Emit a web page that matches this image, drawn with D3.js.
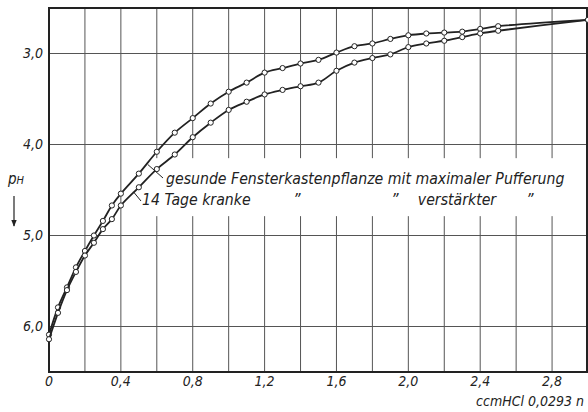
<!DOCTYPE html>
<html lang="de">
<head>
<meta charset="utf-8"/>
<title>pH Titration</title>
<script src="https://d3js.org/d3.v7.min.js"></script>
<style>
  body { margin: 0; background: #fff; }
  text { font-family: "Liberation Sans Narrow", "DejaVu Sans Condensed", sans-serif; font-style: italic; fill: #222; }
  .grid line { stroke: #555; stroke-width: 1; }
  .frame { fill: none; stroke: #222; stroke-width: 2; }
  .curve { fill: none; stroke: #222; stroke-width: 1.8; }
  .pt { fill: #fff; stroke: #222; stroke-width: 1; }
</style>
</head>
<body>
<div id="chart"></div>
<script>
  // ccm HCl 0,0293 n
  var ccm = [0, 0.05, 0.1, 0.15, 0.2, 0.25, 0.3, 0.35, 0.4, 0.5, 0.6, 0.7, 0.8, 0.9, 1.0,
             1.1, 1.2, 1.3, 1.4, 1.5, 1.6, 1.7, 1.8, 1.9, 2.0, 2.1, 2.2, 2.3, 2.4, 2.5, 3.0];
  // gesunde Fensterkastenpflanze mit maximaler Pufferung
  var phGesund = [6.09, 5.79, 5.57, 5.35, 5.17, 5.00, 4.84, 4.67, 4.54, 4.32, 4.08, 3.87, 3.71, 3.55, 3.42,
                  3.32, 3.21, 3.16, 3.11, 3.07, 2.99, 2.92, 2.89, 2.84, 2.80, 2.78, 2.77, 2.76, 2.73, 2.70, 2.63];
  // 14 Tage kranke ... verstaerkter Pufferung
  var phKrank = [6.14, 5.85, 5.60, 5.40, 5.22, 5.08, 4.93, 4.82, 4.67, 4.47, 4.27, 4.11, 3.92, 3.76, 3.62,
                 3.53, 3.45, 3.40, 3.36, 3.32, 3.19, 3.10, 3.05, 3.01, 2.93, 2.89, 2.86, 2.82, 2.78, 2.75, 2.63];
  var xGrid = [0.2, 0.4, 0.6, 0.8, 1.0, 1.2, 1.4, 1.6, 1.8, 2.0, 2.2, 2.4, 2.6, 2.8];
  var xLabels = [0, 0.4, 0.8, 1.2, 1.6, 2.0, 2.4, 2.8];
  var yTicks = [3.0, 4.0, 5.0, 6.0];

  var width = 588, height = 412;

  var x = d3.scaleLinear().domain([0, 3]).range([49, 588]);
  var y = d3.scaleLinear().domain([2.5, 6.5]).range([8, 372]);

  var svg = d3.select("#chart").append("svg")
      .attr("width", width)
      .attr("height", height);

  var comma = function(v) { return v === 0 ? "0" : d3.format(".1f")(v).replace(".", ","); };

  // grid
  var grid = svg.append("g").attr("class", "grid");
  grid.selectAll("line.v").data(xGrid).enter().append("line")
      .attr("class", "v")
      .attr("x1", function(d) { return x(d); }).attr("x2", function(d) { return x(d); })
      .attr("y1", y(2.5)).attr("y2", y(6.5));
  grid.selectAll("line.h").data(yTicks).enter().append("line")
      .attr("class", "h")
      .attr("x1", x(0)).attr("x2", 587)
      .attr("y1", function(d) { return y(d); }).attr("y2", function(d) { return y(d); });

  // white patch behind legend text
  svg.append("rect")
      .attr("x", 152).attr("y", y(4.15)).attr("width", 430).attr("height", 58)
      .attr("fill", "#fff");

  // frame
  svg.append("rect").attr("class", "frame")
      .attr("x", x(0)).attr("y", y(2.5))
      .attr("width", 587 - x(0)).attr("height", y(6.5) - y(2.5));

  // axis labels
  svg.append("g").selectAll("text").data(xLabels).enter().append("text")
      .attr("x", function(d) { return x(d); })
      .attr("y", 386)
      .attr("text-anchor", "middle")
      .attr("font-size", 14)
      .text(comma);

  svg.append("g").selectAll("text").data(yTicks).enter().append("text")
      .attr("x", 43)
      .attr("y", function(d) { return y(d); })
      .attr("dy", "0.35em")
      .attr("text-anchor", "end")
      .attr("font-size", 14)
      .text(comma);

  svg.append("text")
      .attr("x", 584).attr("y", 406)
      .attr("text-anchor", "end")
      .attr("font-size", 14)
      .text("ccmHCl 0,0293 n");

  var ph = svg.append("text").attr("x", 8).attr("y", 184).attr("font-size", 15);
  ph.append("tspan").text("p");
  ph.append("tspan").attr("font-size", 11).text("H");

  svg.append("defs").append("marker")
      .attr("id", "arr").attr("viewBox", "0 0 10 10")
      .attr("refX", 9).attr("refY", 5)
      .attr("markerWidth", 6).attr("markerHeight", 8)
      .attr("orient", "auto")
    .append("path").attr("d", "M0,1 L10,5 L0,9 Z").attr("fill", "#222");
  svg.append("line")
      .attr("x1", 14).attr("x2", 14).attr("y1", 196).attr("y2", 226)
      .attr("stroke", "#222").attr("stroke-width", 1.2)
      .attr("marker-end", "url(#arr)");

  // curves
  var line = d3.line()
      .x(function(d) { return x(d[0]); })
      .y(function(d) { return y(d[1]); })
      .curve(d3.curveCatmullRom.alpha(0.5));

  [phGesund, phKrank].forEach(function(series) {
    var pts = ccm.map(function(c, i) { return [c, series[i]]; });
    svg.append("path").attr("class", "curve").attr("d", line(pts));
    svg.append("g").selectAll("circle").data(pts).enter().append("circle")
        .attr("class", "pt")
        .attr("cx", function(d) { return x(d[0]); })
        .attr("cy", function(d) { return y(d[1]); })
        .attr("r", 2.6);
  });

  // legend
  svg.append("path")
      .attr("d", "M" + x(0.55) + "," + y(4.22) + " L163,178")
      .attr("fill", "none").attr("stroke", "#222").attr("stroke-width", 1);
  svg.append("text").attr("x", 166).attr("y", 184).attr("font-size", 15.7)
      .text("gesunde Fensterkastenpflanze mit maximaler Pufferung");

  svg.append("path")
      .attr("d", "M" + x(0.47) + "," + y(4.52) + " L141,201")
      .attr("fill", "none").attr("stroke", "#222").attr("stroke-width", 1);
  svg.append("text").attr("x", 142).attr("y", 205).attr("font-size", 15.7)
      .text("14 Tage kranke");
  var dittos = [
    { t: "\u201d", x: 297 },
    { t: "\u201d", x: 395 },
    { t: "verst\u00e4rkter", x: 457 },
    { t: "\u201d", x: 530 }
  ];
  svg.append("g").selectAll("text").data(dittos).enter().append("text")
      .attr("x", function(d) { return d.x; })
      .attr("y", 205)
      .attr("text-anchor", "middle")
      .attr("font-size", 15.7)
      .text(function(d) { return d.t; });
</script>
</body>
</html>
